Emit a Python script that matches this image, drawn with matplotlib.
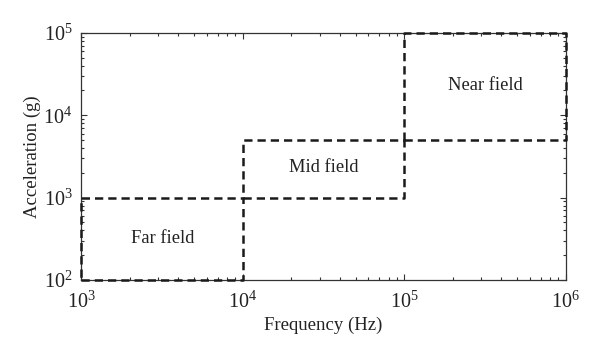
import matplotlib
matplotlib.use("Agg")
import matplotlib.pyplot as plt
from matplotlib.ticker import LogLocator

plt.rcParams['font.family'] = ['Liberation Serif', 'DejaVu Serif']
plt.rcParams['mathtext.fontset'] = 'stix'

regions = ["Far field", "Mid field", "Near field"]
freq_lo = [1e3, 1e4, 1e5]
freq_hi = [1e4, 1e5, 1e6]
acc_lo = [1e2, 1e3, 5e3]
acc_hi = [1e3, 5e3, 1e5]
label_x = [3.2e3, 3.2e4, 3.2e5]
label_y = [3.2e2, 2.3e3, 2.3e4]

fig = plt.figure(figsize=(6, 3.54), dpi=100)
ax = fig.add_axes([0.135, 0.209, 0.808, 0.698])
ax.set_xscale('log')
ax.set_yscale('log')
ax.set_xlim(1e3, 1e6)
ax.set_ylim(1e2, 1e5)

for name, x0, x1, y0, y1, tx, ty in zip(regions, freq_lo, freq_hi, acc_lo, acc_hi, label_x, label_y):
    ax.plot([x0, x1, x1, x0, x0], [y0, y0, y1, y1, y0], color='#1a1a1a',
            lw=1.8, linestyle=(0, (3.3, 2.0)), clip_on=False, zorder=3)
    ax.text(tx, ty, name, ha='center', va='center', fontsize=13.3, color='#222222')

ax.set_xlabel('Frequency (Hz)', fontsize=13.5, color='#222222', labelpad=3)
ax.set_ylabel('Acceleration (g)', fontsize=13.5, color='#222222', labelpad=2)

ax.xaxis.set_major_locator(LogLocator(base=10, numticks=10))
ax.yaxis.set_major_locator(LogLocator(base=10, numticks=10))
ax.xaxis.set_minor_locator(LogLocator(base=10, subs=range(2, 10), numticks=20))
ax.yaxis.set_minor_locator(LogLocator(base=10, subs=range(2, 10), numticks=20))
ax.tick_params(which='both', direction='in', top=True, right=True, colors='#333333',
               labelcolor='#222222', labelsize=14.5, width=0.8)
ax.tick_params(which='major', length=4)
ax.tick_params(which='minor', length=2)
ax.tick_params(axis='x', which='major', pad=8)
ax.tick_params(axis='y', which='major', pad=6)
for s in ax.spines.values():
    s.set_linewidth(0.9)
    s.set_color('#333333')

fig.savefig('out.png', dpi=100)
